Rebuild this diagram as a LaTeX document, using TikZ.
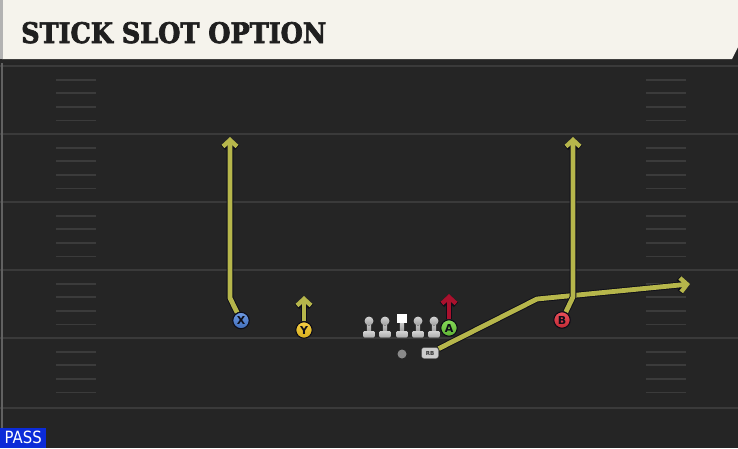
\documentclass[tikz,border=0pt]{standalone}
\usepackage{fontspec}
\usetikzlibrary{arrows.meta}
\newfontfamily\titlefont{DejaVu Serif Condensed}[BoldFeatures={FakeBold=2.5}]
\newfontfamily\labfont{DejaVu Sans}
\definecolor{fieldbg}{HTML}{252525}
\definecolor{fieldline}{HTML}{3A3A3A}
\definecolor{hashline}{HTML}{3B3B3B}
\definecolor{headercream}{HTML}{F5F3EC}
\definecolor{routeyellow}{HTML}{B6B64B}
\definecolor{routered}{HTML}{A9112D}
\definecolor{outlinedark}{HTML}{0D0D18}
\definecolor{xblue}{HTML}{4A80DA}
\definecolor{yyellow}{HTML}{F3C522}
\definecolor{agreen}{HTML}{6FD23B}
\definecolor{bred}{HTML}{E4313D}
\definecolor{passblue}{HTML}{0B2BD8}
\definecolor{qbgrey}{HTML}{8A8A8A}
\pgfdeclarelayer{field}
\pgfdeclarelayer{routes}
\pgfsetlayers{field,routes,main}
\begin{document}
\begin{tikzpicture}[x=1pt,y=-1pt,
  player/.style={circle,draw=outlinedark,line width=1.1pt,minimum size=16.5pt,inner sep=0pt,
    font=\labfont\bfseries\fontsize{11}{11}\selectfont,text=outlinedark},
  route/.style={draw=routeyellow,line width=4.8pt,line join=round,
    -{Straight Barb[length=6.5pt,width=14pt,line width=4.4pt]},
    preaction={draw=outlinedark,line width=6.6pt,line join=round,
    -{Straight Barb[length=6.5pt,width=14pt,line width=6.2pt]}}},
  redroute/.style={route,draw=routered},
  fieldstroke/.style={draw=fieldline,line width=2pt},
  hashstroke/.style={draw=hashline,line width=1.8pt},
  lman/.pic={
    \fill[top color=gray!45,bottom color=gray!75] (-2.2,2) rectangle (2.2,11);
    \fill[top color=gray!35,bottom color=gray!65,rounded corners=1.2pt] (-5.8,10) rectangle (5.8,16.5);
    \fill[top color=gray!35,bottom color=gray!75] (0,0) circle[radius=4.5];
  },
  cman/.pic={
    \fill[top color=gray!45,bottom color=gray!75] (-2.2,2) rectangle (2.2,11);
    \fill[top color=gray!35,bottom color=gray!65,rounded corners=1.2pt] (-5.8,10) rectangle (5.8,16.5);
    \fill[white] (-4.7,-7) rectangle (4.7,2.2);
  }
]
\useasboundingbox (0,0) rectangle (738,448);
\begin{pgfonlayer}{field}
  \fill[fieldbg] (0,0) rectangle (738,448);
  % yard lines
  \foreach \yy in {66,134,202,270,338,408}
    \draw[fieldstroke] (0,\yy) -- (738,\yy);
  % hash marks
  \foreach \yy in {66,134,202,270,338}
    \foreach \off in {13.6,27.2,40.8,54.4} {
      \draw[hashstroke] (56,\yy+\off) -- (96,\yy+\off);
      \draw[hashstroke] (646,\yy+\off) -- (686,\yy+\off);
    }
  % left sideline
  \draw[draw=fieldline!80!white,line width=2pt] (2,62) -- (2,448);
  % header
  \fill[black!85] (0,59) rectangle (738,63);
  \fill[headercream] (2,0) -- (738,0) -- (738,47) -- (732,59) -- (2,59) -- cycle;
  \fill[gray!60] (0,0) rectangle (2.5,59);
\end{pgfonlayer}
\node[anchor=base west,inner sep=0pt,text=black!88] (title) at (21,43)
  {\resizebox{305pt}{21pt}{\titlefont\bfseries STICK SLOT OPTION}};
% PASS tag
\node[anchor=south west,fill=passblue,minimum width=46pt,minimum height=20pt,inner sep=0pt,
  text=white,font=\labfont] (pass) at (0,448) {\resizebox{37pt}{12.5pt}{PASS}};
% offensive line
\pic (lt) at (369,321) {lman};
\pic (lg) at (385,321) {lman};
\pic (c) at (402,321) {cman};
\pic (rg) at (418,321) {lman};
\pic (rt) at (434,321) {lman};
% skill players
\node[player,top color=xblue!80!white,bottom color=xblue!85!black] (X) at (241,320.5) {X};
\node[player,top color=yyellow!85!white,bottom color=yyellow!88!black] (Y) at (304,330) {Y};
\node[player,top color=agreen!85!white,bottom color=agreen!85!black] (A) at (449,328) {A};
\node[player,top color=bred!85!white,bottom color=bred!85!black] (B) at (562,320) {B};
\node[circle,fill=qbgrey,minimum size=9pt,inner sep=0pt] (QB) at (402,354) {};
\node[draw=black!70,fill=gray!40,rounded corners=2.5pt,minimum width=17pt,minimum height=11pt,
  inner sep=0pt,font=\labfont\bfseries\fontsize{5.5}{5.5}\selectfont,text=black!80] (RB) at (430,353) {RB};
% route points
\coordinate (xbend) at (230,298);
\coordinate (xtip) at (230,137);
\coordinate (ytip) at (304,296);
\coordinate (atip) at (449,294);
\coordinate (bbend) at (573,297);
\coordinate (btip) at (573,137);
\coordinate (rbbend) at (537,299);
\coordinate (rbtip) at (690,284);
\begin{pgfonlayer}{routes}
  \draw[route] (RB) -- (rbbend) -- (rbtip);
  \draw[route] (X) -- (xbend) -- (xtip);
  \draw[route] (Y) -- (ytip);
  \draw[route] (B) -- (bbend) -- (btip);
  \draw[redroute] (A) -- (atip);
\end{pgfonlayer}
\end{tikzpicture}
\end{document}
